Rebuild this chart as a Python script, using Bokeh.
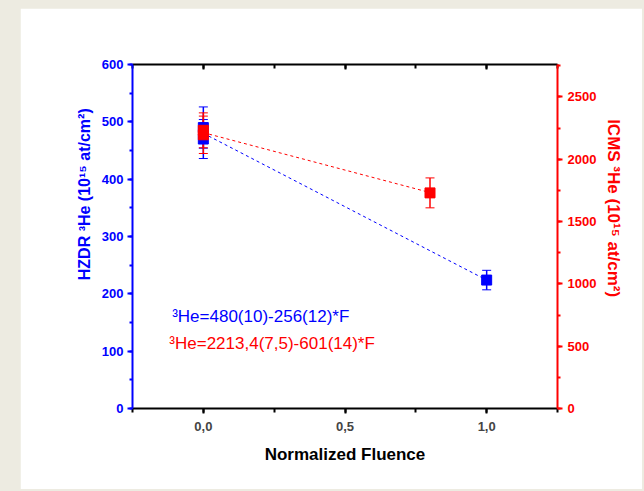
from bokeh.plotting import figure
from bokeh.models import (Range1d, LinearAxis, Whisker, ColumnDataSource, Label,
                          SingleIntervalTicker, CustomJSTickFormatter, GlobalInlineStyleSheet)
from bokeh.embed import file_html
from bokeh.resources import INLINE

# ---- data ----
fluence_hzdr = [0.0, 0.0, 1.0]
he_hzdr = [490, 470, 224]
err_hzdr = [36, 34, 17]

fluence_icms = [0.0, 0.0, 0.8]
he_icms = [2232, 2196, 1730]
err_icms = [140, 150, 120]

fit_hzdr_x = [0.0, 1.0]
fit_hzdr_y = [480, 224]
fit_icms_x = [0.0, 0.8]
fit_icms_y = [2213.4, 1732.6]

eq_hzdr = "³He=480(10)-256(12)*F"
eq_icms = "³He=2213,4(7,5)-601(14)*F"

x_label = "Normalized Fluence"
left_label = "HZDR ³He (10¹⁵ at/cm²)"
right_label = "ICMS ³He (10¹⁵ at/cm²)"

BLUE = "#0000FF"
RED = "#FF0000"
FONT = "Liberation Sans"
NBSP = "\u00a0"

p = figure(width=622, height=481, output_backend="svg", toolbar_location=None,
           x_range=Range1d(-0.25, 1.25), y_range=Range1d(0, 600),
           min_border_left=112, min_border_right=85, min_border_top=56, min_border_bottom=81)
p.margin = (8, 0, 0, 20)
p.stylesheets = [GlobalInlineStyleSheet(css="body{background-color:#EDEBE1;}")]
p.extra_y_ranges = {"icms": Range1d(0, 2760)}
p.outline_line_color = None
p.xgrid.visible = False
p.ygrid.visible = False
p.background_fill_color = "white"
p.border_fill_color = "white"

# bottom axis
xa = p.xaxis[0]
xa.ticker = SingleIntervalTicker(interval=0.5, num_minor_ticks=2)
xa.formatter = CustomJSTickFormatter(code="return tick.toFixed(1).replace('.', ',');")
xa.axis_line_width = 2
xa.axis_line_color = "black"
xa.major_tick_in = 0
xa.major_tick_out = 5
xa.minor_tick_in = 0
xa.minor_tick_out = 4
xa.major_tick_line_width = 2
xa.minor_tick_line_width = 2
xa.major_label_text_font = FONT
xa.major_label_text_font_style = "bold"
xa.major_label_text_font_size = "13px"
xa.major_label_standoff = 8
xa.axis_label = x_label
xa.axis_label_text_font = FONT
xa.axis_label_text_font_style = "bold"
xa.axis_label_text_font_size = "17px"
xa.axis_label_standoff = 11
xa.axis_label_text_color = "black"

# top axis (mirror, no labels)
ta = LinearAxis(ticker=SingleIntervalTicker(interval=0.5, num_minor_ticks=2),
                formatter=CustomJSTickFormatter(code="return '';"),
                axis_line_width=2,
                major_tick_in=5, major_tick_out=0, minor_tick_in=4, minor_tick_out=0,
                major_tick_line_width=2, minor_tick_line_width=2)
p.add_layout(ta, "above")

# left axis
ya = p.yaxis[0]
ya.ticker = SingleIntervalTicker(interval=100, num_minor_ticks=2)
for attr in ("axis_line_color", "major_tick_line_color", "minor_tick_line_color",
             "major_label_text_color", "axis_label_text_color"):
    setattr(ya, attr, BLUE)
ya.axis_line_width = 2
ya.major_tick_in = 0
ya.major_tick_out = 5
ya.minor_tick_in = 0
ya.minor_tick_out = 3
ya.major_tick_line_width = 2
ya.minor_tick_line_width = 2
ya.major_label_text_font = FONT
ya.major_label_text_font_style = "bold"
ya.major_label_text_font_size = "13px"
ya.major_label_standoff = 4
# leading no-break spaces shift the centred title upwards, as in the reference
ya.axis_label = NBSP * 19 + left_label
ya.axis_label_text_font = FONT
ya.axis_label_text_font_style = "bold"
ya.axis_label_text_font_size = "16px"
ya.axis_label_standoff = 6

# right axis
ra = LinearAxis(y_range_name="icms", ticker=SingleIntervalTicker(interval=500, num_minor_ticks=2))
for attr in ("axis_line_color", "major_tick_line_color", "minor_tick_line_color",
             "major_label_text_color", "axis_label_text_color"):
    setattr(ra, attr, RED)
ra.axis_line_width = 2
ra.major_tick_in = 0
ra.major_tick_out = 5
ra.minor_tick_in = 0
ra.minor_tick_out = 3
ra.major_tick_line_width = 2
ra.minor_tick_line_width = 2
ra.major_label_text_font = FONT
ra.major_label_text_font_style = "bold"
ra.major_label_text_font_size = "13px"
ra.major_label_standoff = 5
ra.axis_label = right_label + NBSP * 12
ra.axis_label_text_font = FONT
ra.axis_label_text_font_style = "bold"
ra.axis_label_text_font_size = "17px"
ra.axis_label_standoff = 5
p.add_layout(ra, "right")

# fit lines
p.line(fit_hzdr_x, fit_hzdr_y, line_color=BLUE, line_width=1, line_dash="3 3")
p.line(fit_icms_x, fit_icms_y, line_color=RED, line_width=1, line_dash="3 3", y_range_name="icms")

# HZDR data
src_h = ColumnDataSource(dict(x=fluence_hzdr, y=he_hzdr,
                              lo=[v - e for v, e in zip(he_hzdr, err_hzdr)],
                              hi=[v + e for v, e in zip(he_hzdr, err_hzdr)]))
wh = Whisker(source=src_h, base="x", lower="lo", upper="hi", line_color=BLUE, line_width=1.5)
wh.upper_head.line_color = BLUE
wh.lower_head.line_color = BLUE
wh.upper_head.size = 9
wh.lower_head.size = 9
p.add_layout(wh)
p.scatter("x", "y", source=src_h, marker="square", size=10, fill_color=BLUE, line_color=BLUE)

# ICMS data
src_i = ColumnDataSource(dict(x=fluence_icms, y=he_icms,
                              lo=[v - e for v, e in zip(he_icms, err_icms)],
                              hi=[v + e for v, e in zip(he_icms, err_icms)]))
wi = Whisker(source=src_i, base="x", lower="lo", upper="hi", line_color=RED, line_width=1.5,
             y_range_name="icms")
wi.upper_head.line_color = RED
wi.lower_head.line_color = RED
wi.upper_head.size = 9
wi.lower_head.size = 9
p.add_layout(wi)
p.scatter("x", "y", source=src_i, marker="square", size=10, fill_color=RED, line_color=RED,
          y_range_name="icms")

# equations
p.add_layout(Label(x=-0.11, y=160, text=eq_hzdr, text_color=BLUE, text_font=FONT,
                   text_font_size="17px", text_baseline="alphabetic"))
p.add_layout(Label(x=-0.12, y=114, text=eq_icms, text_color=RED, text_font=FONT,
                   text_font_size="17px", text_baseline="alphabetic"))

open("out.html", "w").write(file_html(p, INLINE))
